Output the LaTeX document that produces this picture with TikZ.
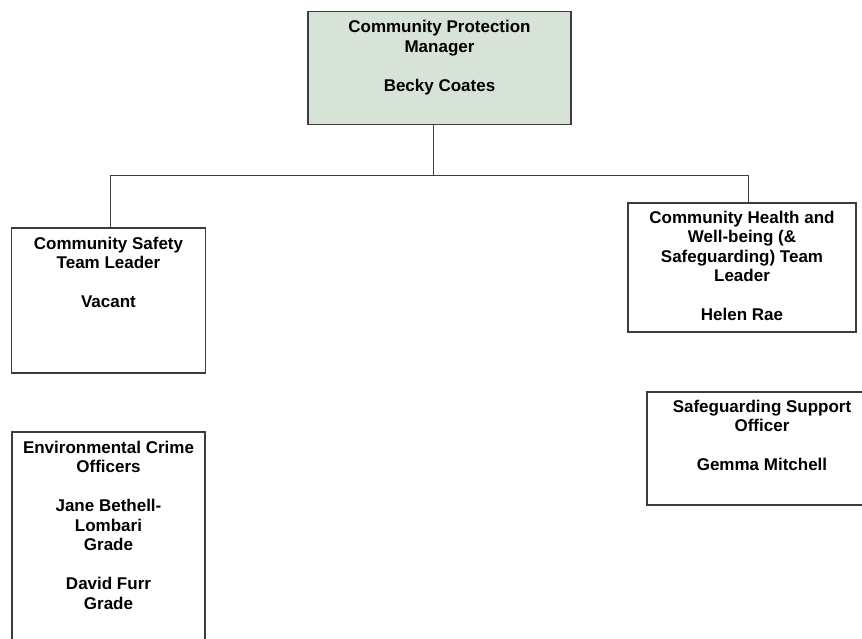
\documentclass[tikz,border=0pt]{standalone}
\usepackage{fontspec}
\setmainfont{Liberation Sans}
\definecolor{mgrfill}{RGB}{216,227,215}
\definecolor{edge}{RGB}{60,60,60}
\newcommand{\boxtext}[1]{\begin{tabular}[t]{@{}c@{}}#1\end{tabular}}
\begin{document}
\begin{tikzpicture}[x=1pt,y=-1pt,
  post/.style={draw=edge, line width=1.1pt, inner sep=0pt, outer sep=0pt},
  label/.style={anchor=base, inner sep=0pt, font=\fontsize{17}{19.5}\selectfont\bfseries},
  link/.style={draw=edge, line width=1pt}]
\clip (0,0) rectangle (862,638);
\fill[white] (0,0) rectangle (862,638);

% boxes
\node[post, fill=mgrfill, minimum width=263pt, minimum height=113pt] (mgr) at (439.5,68) {};
\node[post, minimum width=194pt, minimum height=145pt] (cs) at (108.5,300.5) {};
\node[post, minimum width=228pt, minimum height=129pt] (hw) at (742,267.5) {};
\node[post, minimum width=230pt, minimum height=113pt] (sso) at (762,448.5) {};
\node[post, minimum width=193pt, minimum height=240pt] (eco) at (108.5,552) {};

% texts
\node[label] at ([yshift=-21pt]mgr.north) {\boxtext{Community Protection\\Manager\\ \\Becky Coates}};
\node[label] at ([yshift=-21pt]cs.north) {\boxtext{Community Safety\\Team Leader\\ \\Vacant}};
\node[label] at ([yshift=-20pt]hw.north) {\boxtext{Community Health and\\Well-being (\&\\Safeguarding) Team\\Leader\\ \\Helen Rae}};
\node[label] at ([yshift=-20pt]sso.north) {\boxtext{Safeguarding Support\\Officer\\ \\Gemma Mitchell}};
\node[label] at ([yshift=-21pt]eco.north) {\boxtext{Environmental Crime\\Officers\\ \\Jane Bethell-\\Lombari\\Grade\\ \\David Furr\\Grade}};

% connectors
\coordinate (hub) at (433,175);
\coordinate (lt) at (110,175);
\coordinate (rt) at (748,175);
\draw[link] (hub |- mgr.south) -- (hub);
\draw[link] (lt) -- (rt);
\draw[link] (lt) -- (lt |- cs.north);
\draw[link] (rt) -- (rt |- hw.north);
\end{tikzpicture}
\end{document}
